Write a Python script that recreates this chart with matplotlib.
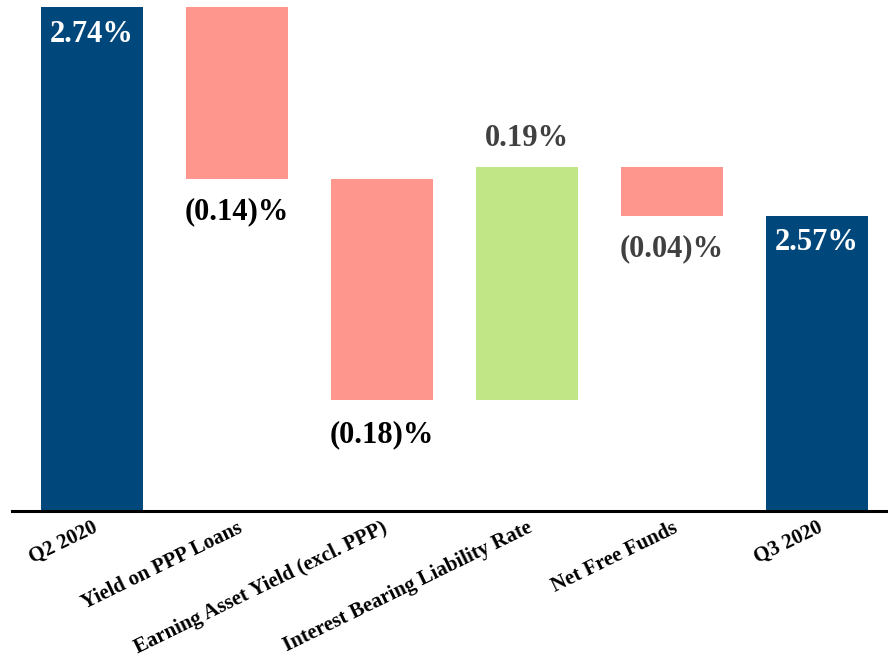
import numpy as np
import matplotlib.pyplot as plt

plt.rcParams['font.family'] = ['Liberation Serif', 'DejaVu Serif']
plt.rcParams['font.weight'] = 'bold'

categories = ['Q2 2020', 'Yield on PPP Loans', 'Earning Asset Yield (excl. PPP)',
              'Interest Bearing Liability Rate', 'Net Free Funds', 'Q3 2020']
start_value = 2.74
changes = [-0.14, -0.18, 0.19, -0.04]
end_value = 2.57
value_labels = ['2.74%', '(0.14)%', '(0.18)%', '0.19%', '(0.04)%', '2.57%']
label_colors = ['white', 'black', 'black', '#404040', '#404040', 'white']

navy = '#00487C'
red = '#FF968E'
green = '#C0E686'
y_min = 2.33

# waterfall geometry from the values
levels = start_value + np.cumsum([0] + changes)
bottoms = [y_min]
heights = [start_value - y_min]
colors = [navy]
for i, c in enumerate(changes):
    lo = min(levels[i], levels[i + 1])
    bottoms.append(lo)
    heights.append(abs(c))
    colors.append(green if c > 0 else red)
bottoms.append(y_min)
heights.append(end_value - y_min)
colors.append(navy)

fig = plt.figure(figsize=(8.88, 6.59), dpi=100)
ax = fig.add_axes([12 / 888, (659 - 511) / 659, 876 / 888, 504 / 659])

x = np.arange(len(categories))
ax.bar(x, heights, bottom=bottoms, width=0.70, color=colors)
ax.set_xlim(-0.55, 5.49)
ax.set_ylim(y_min, start_value)

for s in ['top', 'right', 'left']:
    ax.spines[s].set_visible(False)
ax.spines['bottom'].set_linewidth(2.2)
ax.spines['bottom'].set_color('black')
ax.set_yticks([])

ax.set_xticks(x)
ax.set_xticklabels(categories, rotation=26, ha='right', rotation_mode='anchor',
                   fontsize=15, fontweight='bold')
ax.tick_params(axis='x', length=0, pad=5)

for i in range(len(categories)):
    top = bottoms[i] + heights[i]
    bot = bottoms[i]
    if i in (0, len(categories) - 1):
        ax.annotate(value_labels[i], (x[i], top), xytext=(0, -9), textcoords='offset points',
                    ha='center', va='top', color=label_colors[i], fontsize=22, fontweight='bold')
    elif changes[i - 1] > 0:
        ax.annotate(value_labels[i], (x[i], top), xytext=(0, 10), textcoords='offset points',
                    ha='center', va='bottom', color=label_colors[i], fontsize=22, fontweight='bold')
    else:
        off = -14 if i == 2 else -13
        ax.annotate(value_labels[i], (x[i], bot), xytext=(0, off), textcoords='offset points',
                    ha='center', va='top', color=label_colors[i], fontsize=22, fontweight='bold')

fig.savefig('out.png', dpi=100)
